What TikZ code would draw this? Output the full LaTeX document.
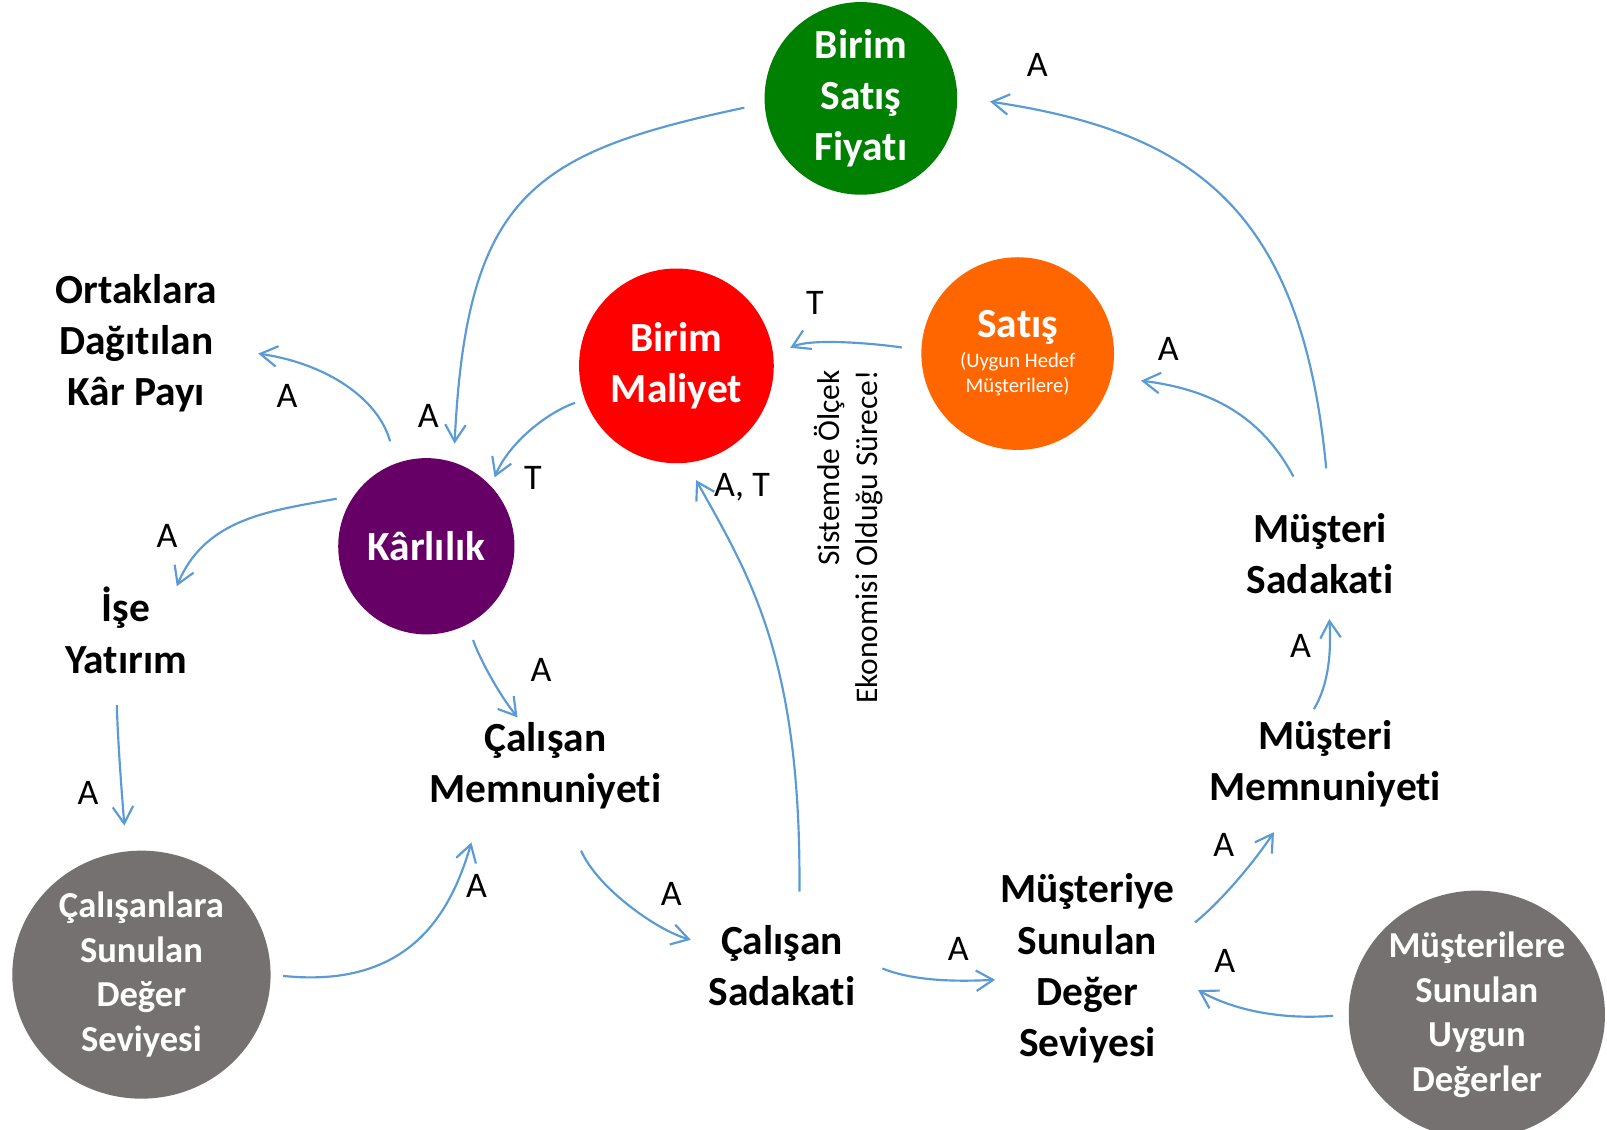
\documentclass[tikz,border=0pt]{standalone}
\usepackage{fontspec}
\setmainfont[Ligatures=NoCommon]{Carlito}
\usetikzlibrary{shapes.geometric,arrows.meta}

\definecolor{priceGreen}{RGB}{0,128,0}
\definecolor{costRed}{RGB}{255,0,0}
\definecolor{salesOrange}{RGB}{255,102,0}
\definecolor{profitPurple}{RGB}{102,0,102}
\definecolor{valueGray}{RGB}{118,113,113}
\definecolor{linkBlue}{RGB}{91,155,213}
\newcommand{\notefont}{\mdseries\fontsize{11.5}{14}\selectfont}

\begin{document}
\begin{tikzpicture}

%
% Styles
%
\tikzstyle{bubble} = [circle,inner sep=0pt,text=white,align=center,font=\bfseries\fontsize{23}{28.5}\selectfont]
\tikzstyle{blob}   = [ellipse,inner sep=0pt,fill=valueGray,text=white,align=center,minimum width=5.04cm,minimum height=4.84cm,font=\bfseries\fontsize{20.3}{24.8}\selectfont]
\tikzstyle{term}   = [align=center,inner sep=0pt,font=\bfseries\fontsize{23}{28.5}\selectfont]
\tikzstyle{flow}   = [->,>={Straight Barb[length=3.3mm,width=4mm]},line width=1.2pt,draw=linkBlue]
\tikzstyle{weight} = [inner sep=0pt,font=\fontsize{20}{24}\selectfont]

\path[fill=white,use as bounding box] (0,0) rectangle (31.36,22.04);

\node[bubble,fill=priceGreen,minimum size=3.76cm]   (fiyat)    at (16.80,20.12) {Birim\\Satış\\Fiyatı};
\node[bubble,fill=costRed,minimum size=3.8cm]       (maliyet)  at (13.20,14.90) {Birim\\Maliyet};
\node[bubble,fill=salesOrange,minimum size=3.76cm,font=\notefont] (satis) at (19.86,15.14) {{\bfseries\fontsize{23}{28.5}\selectfont Satış}\\[2.5pt](Uygun Hedef\\Müşterilere)};
\node[bubble,fill=profitPurple,minimum size=3.44cm] (karlilik) at (8.32,11.38)  {Kârlılık};
\node[blob] (calDeger) at (2.76,3.02)  {Çalışanlara\\Sunulan\\Değer\\Seviyesi};
\node[blob,minimum width=5cm] (musDeger) at (28.82,2.24) {Müşterilere\\Sunulan\\Uygun\\Değerler};

\node[term] (ortak)  at (2.66,15.34)  {Ortaklara\\Dağıtılan\\Kâr Payı};
\node[term] (ise)    at (2.46,9.74)   {İşe\\Yatırım};
\node[term] (calMem) at (10.64,7.10)  {Çalışan\\Memnuniyeti};
\node[term] (calSad) at (15.26,3.20)  {Çalışan\\Sadakati};
\node[term] (musDeg) at (21.22,3.14)  {Müşteriye\\Sunulan\\Değer\\Seviyesi};
\node[term] (musMem) at (25.86,7.14)  {Müşteri\\Memnuniyeti};
\node[term] (musSad) at (25.76,11.24) {Müşteri\\Sadakati};
\node[rotate=90,align=right,font=\fontsize{17.5}{21.5}\selectfont] (olcek) at (16.56,11.56) {Sistemde Ölçek\\Ekonomisi Olduğu Sürece!};

% connectors
\draw[flow,shorten <=0.4cm,shorten >=0.36cm] (fiyat.183.5) .. controls +(-4.52,-0.96) and +(0.25,5.22) .. (karlilik.72);
\draw[flow,shorten >=0.64cm] ([shift={(0.12,1.66)}]musSad.center) .. controls +(-0.48,5.14) and +(4.52,-0.68) .. (fiyat.1);
\draw[flow,shorten >=0.58cm] ([shift={(-0.52,1.5)}]musSad.center) .. controls +(-0.64,1.2) and +(1.92,-0.24) .. (satis.-14);
\draw[flow,shorten <=0.38cm,shorten >=0.36cm] (satis.178) .. controls +(-0.98,0.14) and +(0.72,0.34) .. (maliyet.6);
\draw[flow,shorten <=0.2cm,shorten >=0.18cm] (maliyet.200) .. controls +(-0.82,-0.3) and +(0.32,0.78) .. (karlilik.43);
\draw[flow,shorten >=0.38cm] ([shift={(0.34,1.44)}]calSad.center) .. controls +(0.04,4.6) and +(1.2,-2.16) .. (maliyet.-84);
\draw[flow,shorten <=0.44cm] (karlilik.110) .. controls +(-0.34,1.24) and +(1.36,-0.2) .. ([shift={(2.38,-0.2)}]ortak.center);
\draw[flow,shorten <=0.34cm] (karlilik.145) .. controls +(-1.62,-0.3) and +(0.56,1.34) .. ([shift={(0.99,0.86)}]ise.center);
\draw[flow,shorten <=0.32cm] (karlilik.-62) .. controls +(0.2,-0.6) and +(-0.4,0.5) .. ([shift={(-0.54,0.94)}]calMem.center);
\draw[flow,shorten >=0.5cm] ([shift={(-0.18,-1.46)}]ise.center) .. controls +(0.02,-0.8) and +(-0.06,0.8) .. (calDeger.97);
\draw[flow,shorten <=0.24cm] (calDeger.0) .. controls +(2.72,-0.28) and +(-0.4,-1.36) .. ([shift={(-1.44,-1.5)}]calMem.center);
\draw[flow] ([shift={(0.7,-1.66)}]calMem.center) .. controls +(0.3,-0.7) and +(-0.7,0.2) .. ([shift={(-1.78,0.5)}]calSad.center);
\draw[flow] ([shift={(1.96,-0.06)}]calSad.center) .. controls +(0.6,-0.24) and +(-0.8,-0.04) .. ([shift={(-1.8,-0.22)}]musDeg.center);
\draw[flow] ([shift={(2.1,0.9)}]musDeg.center) .. controls +(0.5,0.4) and +(-0.4,-0.6) .. ([shift={(-1.0,-1.34)}]musMem.center);
\draw[flow,shorten <=0.3cm] (musDeger.180) .. controls +(-1.3,-0.1) and +(0.7,-0.4) .. ([shift={(2.16,-0.42)}]musDeg.center);
\draw[flow] ([shift={(-0.22,1.06)}]musMem.center) .. controls +(0.3,0.5) and +(0.04,-0.6) .. ([shift={(0.18,-1.28)}]musSad.center);

% labels
\node[weight] (w1)  at (20.24,20.78) {A};
\node[weight] (w2)  at (15.90,16.12) {T};
\node[weight] (w3)  at (22.80,15.24) {A};
\node[weight] (w4)  at (5.60,14.32)  {A};
\node[weight] (w5)  at (8.36,13.92)  {A};
\node[weight] (w6)  at (10.40,12.72) {T};
\node[weight] (w7)  at (14.48,12.54) {A, T};
\node[weight] (w8)  at (3.26,11.58)  {A};
\node[weight] (w9)  at (10.56,8.96)  {A};
\node[weight] (w10) at (1.72,6.56)   {A};
\node[weight] (w11) at (9.30,4.76)   {A};
\node[weight] (w12) at (13.10,4.60)  {A};
\node[weight] (w13) at (18.70,3.52)  {A};
\node[weight] (w14) at (23.88,5.56)  {A};
\node[weight] (w15) at (23.90,3.28)  {A};
\node[weight] (w16) at (25.38,9.44)  {A};

\end{tikzpicture}
\end{document}
